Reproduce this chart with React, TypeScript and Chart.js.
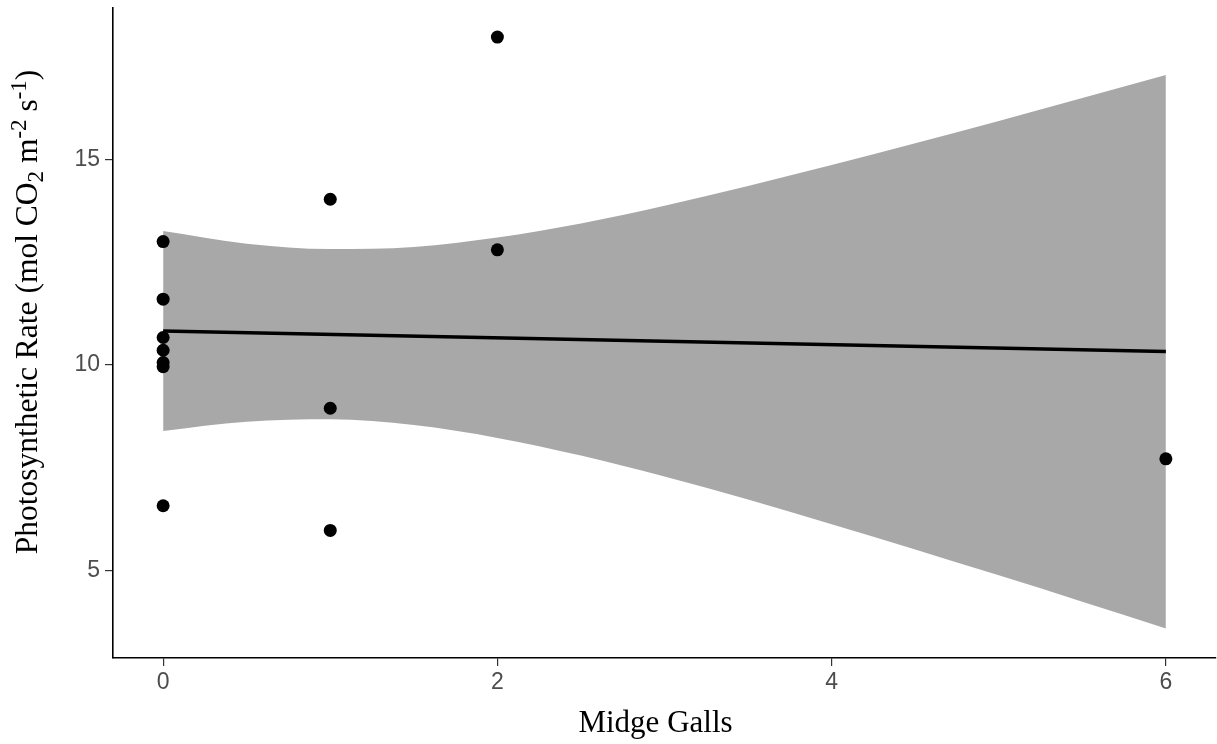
import React, { useEffect, useRef } from "react";
import { Chart, registerables } from "chart.js";

Chart.register(...registerables);

// ---- data ----
const GALLS = [0, 0, 0, 0, 0, 0, 0, 1, 1, 1, 2, 2, 6];
const RATE = [13.0, 11.6, 10.67, 10.36, 10.06, 9.96, 6.58, 14.03, 8.95, 5.98, 17.97, 12.8, 7.72];

const FIT_X = [0, 6];
const FIT_Y = [10.83, 10.33];

const BAND_X = [0, 0.5, 1, 1.5, 2, 2.5, 3, 3.5, 4, 4.5, 5, 5.5, 6];
const BAND_LOW = [8.4, 8.62, 8.68, 8.54, 8.23, 7.8, 7.29, 6.73, 6.13, 5.52, 4.89, 4.25, 3.6];
const BAND_HIGH = [13.26, 12.95, 12.82, 12.87, 13.1, 13.44, 13.87, 14.35, 14.86, 15.39, 15.93, 16.49, 17.05];

const X_TICKS = [0, 2, 4, 6];
const Y_TICKS = [5, 10, 15];

const X_TITLE = "Midge Galls";
const Y_TITLE_PARTS = [
  { text: "Photosynthetic Rate (mol CO", mode: "normal" },
  { text: "2", mode: "sub" },
  { text: " m", mode: "normal" },
  { text: "-2", mode: "sup" },
  { text: " s", mode: "normal" },
  { text: "-1", mode: "sup" },
  { text: ")", mode: "normal" },
];

const SERIF = '"Liberation Serif", "Times New Roman", serif';
const SANS = '"Liberation Sans", Arial, sans-serif';

const titlePlugin = {
  id: "axisTitles",
  afterDraw(chart: any) {
    const ctx = chart.ctx as CanvasRenderingContext2D;
    const ca = chart.chartArea;
    ctx.save();
    ctx.fillStyle = "#000";
    ctx.textBaseline = "alphabetic";
    // x title
    ctx.font = `31px ${SERIF}`;
    ctx.textAlign = "center";
    ctx.fillText(X_TITLE, (ca.left + ca.right) / 2 - 9, 731.5);

    // y title (rich text, rotated)
    const base = 31.5;
    const small = 23;
    const widths = Y_TITLE_PARTS.map((p) => {
      ctx.font = `${p.mode === "normal" ? base : small}px ${SERIF}`;
      return ctx.measureText(p.text).width;
    });
    const total = widths.reduce((a, b) => a + b, 0);
    ctx.translate(37, 312);
    ctx.rotate(-Math.PI / 2);
    ctx.textAlign = "left";
    let x = -total / 2;
    Y_TITLE_PARTS.forEach((p, i) => {
      ctx.font = `${p.mode === "normal" ? base : small}px ${SERIF}`;
      const dy = p.mode === "sub" ? 6 : p.mode === "sup" ? -11 : 0;
      ctx.fillText(p.text, x, dy);
      x += widths[i];
    });
    ctx.restore();
  },
};

export default function App() {
  const canvasRef = useRef<HTMLCanvasElement | null>(null);

  useEffect(() => {
    if (!canvasRef.current) return;
    const chart = new Chart(canvasRef.current, {
      type: "scatter",
      data: {
        datasets: [
          {
            type: "scatter",
            label: "points",
            data: GALLS.map((g, i) => ({ x: g, y: RATE[i] })),
            pointRadius: 6.5,
            pointHoverRadius: 6.5,
            backgroundColor: "#000",
            borderColor: "#000",
            borderWidth: 0,
          },
          {
            type: "line",
            label: "fit",
            data: FIT_X.map((g, i) => ({ x: g, y: FIT_Y[i] })),
            borderColor: "#000",
            borderWidth: 3.5,
            pointRadius: 0,
            fill: false,
          },
          {
            type: "line",
            label: "upper",
            data: BAND_X.map((g, i) => ({ x: g, y: BAND_HIGH[i] })),
            borderColor: "rgba(0,0,0,0)",
            borderWidth: 0,
            pointRadius: 0,
            backgroundColor: "#A8A8A8",
            fill: 3,
            cubicInterpolationMode: "monotone",
          },
          {
            type: "line",
            label: "lower",
            data: BAND_X.map((g, i) => ({ x: g, y: BAND_LOW[i] })),
            borderColor: "rgba(0,0,0,0)",
            borderWidth: 0,
            pointRadius: 0,
            fill: false,
            cubicInterpolationMode: "monotone",
          },
        ] as any,
      },
      options: {
        animation: false,
        responsive: false,
        layout: { autoPadding: false, padding: { top: 7.5, right: 1, left: 0, bottom: 0 } },
        plugins: {
          legend: { display: false },
          tooltip: { enabled: false },
        },
        scales: {
          x: {
            type: "linear",
            min: -0.3,
            max: 6.3,
            afterBuildTicks: (s: any) => {
              s.ticks = X_TICKS.map((v) => ({ value: v }));
            },
            afterFit: (s: any) => {
              s.height = 86;
              s.paddingLeft = 0;
              s.paddingRight = 0;
            },
            ticks: {
              font: { family: SANS, size: 23 },
              color: "#4D4D4D",
              padding: 3,
              maxRotation: 0,
            },
            grid: {
              drawOnChartArea: false,
              drawTicks: true,
              tickLength: 8,
              color: "#333",
              lineWidth: 1.2,
            },
            border: { display: true, color: "#000", width: 1.6 },
          },
          y: {
            type: "linear",
            min: 2.88,
            max: 18.69,
            afterBuildTicks: (s: any) => {
              s.ticks = Y_TICKS.map((v) => ({ value: v }));
            },
            afterFit: (s: any) => {
              s.width = 113;
              s.paddingTop = 0;
              s.paddingBottom = 0;
            },
            ticks: {
              font: { family: SANS, size: 23 },
              color: "#4D4D4D",
              padding: 5,
            },
            grid: {
              drawOnChartArea: false,
              drawTicks: true,
              tickLength: 8,
              color: "#333",
              lineWidth: 1.2,
            },
            border: { display: true, color: "#000", width: 1.6 },
          },
        },
      } as any,
      plugins: [titlePlugin],
    });
    return () => chart.destroy();
  }, []);

  return (
    <div style={{ position: "fixed", left: 0, top: 0, width: 1217, height: 744, background: "#fff" }}>
      <canvas ref={canvasRef} width={1217} height={744} style={{ display: "block" }} />
    </div>
  );
}
